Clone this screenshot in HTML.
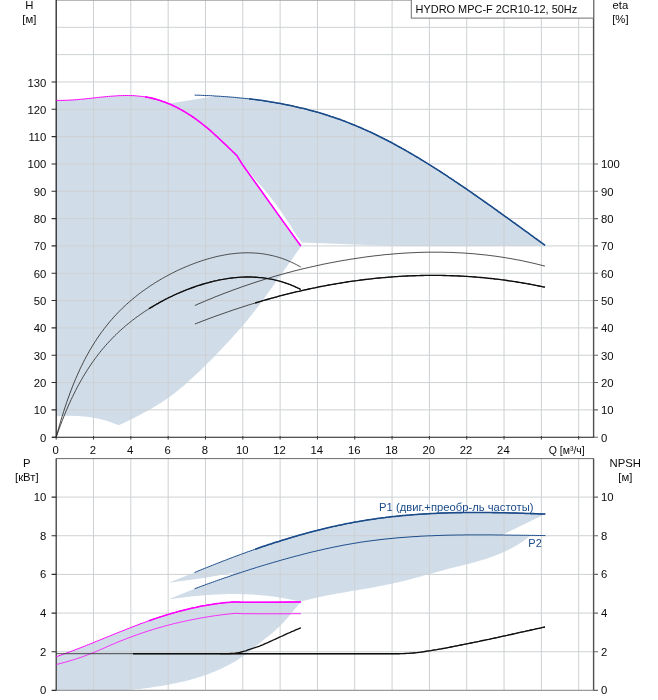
<!DOCTYPE html>
<html lang="ru"><head><meta charset="utf-8"><title>HYDRO MPC-F 2CR10-12, 50Hz</title>
<style>
html,body{margin:0;padding:0;background:#fff;}
body{width:658px;height:700px;overflow:hidden;}
svg{display:block;font-family:"Liberation Sans",Arial,sans-serif;}
</style></head><body>
<svg width="658" height="700" viewBox="0 0 658 700">
<rect width="658" height="700" fill="#fff"/>
<defs><filter id="soft" x="0" y="0" width="658" height="700" filterUnits="userSpaceOnUse"><feGaussianBlur stdDeviation="0.32"/></filter></defs>
<g filter="url(#soft)">
<path d="M56.2,100.3 L58.2,100.4 L60.2,100.4 L62.2,100.4 L64.2,100.3 L66.2,100.3 L68.3,100.2 L70.3,100.1 L72.3,100.0 L74.3,99.8 L76.3,99.7 L78.3,99.5 L80.3,99.3 L82.3,99.2 L84.3,99.0 L86.3,98.7 L88.4,98.5 L90.4,98.3 L92.4,98.1 L94.4,97.9 L96.4,97.6 L98.4,97.4 L100.4,97.2 L102.4,97.0 L104.4,96.8 L106.4,96.6 L108.5,96.4 L110.5,96.3 L112.5,96.1 L114.5,96.0 L116.5,95.8 L118.5,95.7 L120.5,95.6 L122.5,95.6 L124.5,95.5 L126.5,95.5 L128.6,95.5 L130.6,95.6 L132.6,95.6 L134.6,95.7 L136.6,95.9 L138.6,96.1 L140.6,96.3 L142.6,96.5 L144.6,96.8 L146.6,97.1 L148.7,97.5 L150.7,97.9 L152.7,98.4 L154.7,98.9 L156.7,99.4 L158.7,100.0 L160.7,100.7 L162.7,101.4 L164.7,102.1 L166.8,102.9 L168.8,103.7 L170.8,104.6 L172.8,105.5 L174.8,106.4 L176.8,107.4 L178.8,108.5 L180.8,109.6 L182.8,110.7 L184.8,111.9 L186.8,113.1 L188.9,114.4 L190.9,115.7 L192.9,117.0 L194.9,118.4 L196.9,119.9 L198.9,121.4 L200.9,122.9 L202.9,124.5 L204.9,126.1 L206.9,127.7 L209.0,129.4 L211.0,131.2 L213.0,133.0 L215.0,134.8 L217.0,136.6 L219.0,138.5 L221.0,140.4 L223.0,142.3 L225.0,144.2 L227.1,146.1 L229.1,148.1 L231.1,150.0 L233.1,152.0 L235.1,153.9 L237.1,155.9 L242.6,164.8 L261.4,191.0 L280.2,217.4 L300.8,246.0 L300.9,246.8 L298.9,249.6 L296.9,252.3 L294.9,255.1 L292.9,257.9 L290.9,260.7 L288.9,263.6 L286.9,266.4 L284.9,269.2 L282.9,272.1 L280.9,274.9 L278.9,277.8 L276.9,280.6 L274.9,283.4 L272.9,286.2 L270.9,289.0 L268.9,291.8 L266.9,294.6 L264.9,297.3 L262.9,300.0 L260.9,302.7 L258.9,305.4 L256.9,308.0 L254.9,310.6 L252.9,313.2 L250.9,315.7 L248.9,318.2 L246.9,320.7 L244.9,323.1 L242.9,325.5 L240.9,327.8 L238.9,330.1 L236.9,332.4 L234.9,334.6 L232.9,336.8 L230.9,339.0 L228.9,341.2 L226.9,343.3 L224.9,345.5 L222.9,347.6 L220.9,349.7 L218.9,351.8 L216.9,353.8 L214.9,355.9 L212.9,358.0 L210.9,360.0 L208.8,362.0 L206.8,364.0 L204.8,366.0 L202.8,368.0 L200.8,369.9 L198.8,371.9 L196.8,373.8 L194.8,375.6 L192.8,377.5 L190.8,379.3 L188.8,381.1 L186.8,382.9 L184.8,384.7 L182.8,386.4 L180.8,388.1 L178.8,389.7 L176.8,391.3 L174.8,392.9 L172.8,394.4 L170.8,395.9 L168.8,397.4 L166.8,398.8 L164.8,400.2 L162.8,401.6 L160.8,402.9 L158.8,404.1 L156.8,405.4 L154.8,406.6 L152.8,407.8 L150.8,408.9 L148.8,410.1 L146.8,411.2 L144.8,412.3 L142.8,413.3 L140.8,414.4 L138.8,415.4 L136.8,416.4 L134.8,417.5 L132.8,418.5 L130.8,419.4 L128.8,420.4 L126.8,421.4 L124.8,422.4 L122.8,423.4 L120.8,424.3 L118.8,425.3 L116.8,424.5 L114.8,423.7 L112.7,422.9 L110.7,422.2 L108.7,421.5 L106.7,420.8 L104.7,420.3 L102.6,419.7 L100.6,419.2 L98.6,418.7 L96.6,418.3 L94.6,417.9 L92.5,417.6 L90.5,417.2 L88.5,417.0 L86.5,416.7 L84.5,416.5 L82.5,416.3 L80.4,416.2 L78.4,416.0 L76.4,415.9 L74.4,415.9 L72.4,415.8 L70.3,415.8 L68.3,415.8 L66.3,415.8 L64.3,415.9 L62.3,416.0 L60.2,416.1 L58.2,416.2 L56.2,416.3 Z" fill="#d0dce8"/>
<path d="M169.5,103.6 L216.6,96.1 L218.6,96.2 L220.6,96.3 L222.6,96.5 L224.6,96.6 L226.6,96.7 L228.6,96.9 L230.7,97.1 L232.7,97.2 L234.7,97.4 L236.7,97.6 L238.7,97.8 L240.7,98.0 L242.7,98.2 L244.7,98.4 L246.7,98.6 L248.7,98.8 L250.7,99.0 L252.7,99.3 L254.7,99.5 L256.7,99.8 L258.7,100.1 L260.7,100.3 L262.7,100.6 L264.7,100.9 L266.7,101.2 L268.7,101.5 L270.7,101.9 L272.7,102.2 L274.7,102.5 L276.7,102.9 L278.7,103.2 L280.7,103.6 L282.7,104.0 L284.7,104.4 L286.7,104.8 L288.7,105.2 L290.7,105.6 L292.7,106.0 L294.7,106.5 L296.7,106.9 L298.7,107.4 L300.8,107.9 L302.8,108.3 L304.8,108.8 L306.8,109.3 L308.8,109.9 L310.8,110.4 L312.8,110.9 L314.8,111.5 L316.8,112.1 L318.8,112.6 L320.8,113.2 L322.8,113.8 L324.8,114.4 L326.8,115.1 L328.8,115.7 L330.8,116.4 L332.8,117.0 L334.8,117.7 L336.8,118.4 L338.8,119.1 L340.8,119.8 L342.8,120.6 L344.8,121.3 L346.8,122.1 L348.8,122.9 L350.8,123.7 L352.8,124.5 L354.8,125.3 L356.8,126.1 L358.8,127.0 L360.8,127.8 L362.8,128.7 L364.8,129.6 L366.8,130.5 L368.8,131.4 L370.9,132.3 L372.9,133.3 L374.9,134.2 L376.9,135.2 L378.9,136.2 L380.9,137.2 L382.9,138.2 L384.9,139.2 L386.9,140.2 L388.9,141.3 L390.9,142.3 L392.9,143.4 L394.9,144.5 L396.9,145.6 L398.9,146.7 L400.9,147.8 L402.9,148.9 L404.9,150.0 L406.9,151.2 L408.9,152.3 L410.9,153.5 L412.9,154.7 L414.9,155.9 L416.9,157.0 L418.9,158.2 L420.9,159.5 L422.9,160.7 L424.9,161.9 L426.9,163.1 L428.9,164.4 L430.9,165.6 L432.9,166.9 L434.9,168.2 L436.9,169.4 L438.9,170.7 L441.0,172.0 L443.0,173.3 L445.0,174.6 L447.0,175.9 L449.0,177.3 L451.0,178.6 L453.0,179.9 L455.0,181.3 L457.0,182.6 L459.0,184.0 L461.0,185.3 L463.0,186.7 L465.0,188.0 L467.0,189.4 L469.0,190.8 L471.0,192.2 L473.0,193.6 L475.0,195.0 L477.0,196.4 L479.0,197.8 L481.0,199.2 L483.0,200.6 L485.0,202.0 L487.0,203.4 L489.0,204.8 L491.0,206.2 L493.0,207.7 L495.0,209.1 L497.0,210.5 L499.0,212.0 L501.0,213.4 L503.0,214.9 L505.0,216.3 L507.0,217.7 L509.0,219.2 L511.1,220.6 L513.1,222.1 L515.1,223.5 L517.1,225.0 L519.1,226.4 L521.1,227.9 L523.1,229.3 L525.1,230.8 L527.1,232.2 L529.1,233.7 L531.1,235.2 L533.1,236.6 L535.1,238.1 L537.1,239.5 L539.1,241.0 L541.1,242.4 L543.1,243.9 L545.1,245.3 L545.1,246.0 L395,246.0 L302,242.5 L301.8,242.6 L247.5,169.5 L236.0,159.0 L169.5,103.6 Z" fill="#d0dce8"/>
<path d="M56.2,656.7 L58.2,656.0 L60.2,655.3 L62.3,654.6 L64.3,653.8 L66.3,653.1 L68.3,652.4 L70.3,651.6 L72.4,650.9 L74.4,650.1 L76.4,649.3 L78.4,648.6 L80.4,647.8 L82.5,647.0 L84.5,646.2 L86.5,645.4 L88.5,644.6 L90.5,643.8 L92.6,643.0 L94.6,642.1 L96.6,641.3 L98.6,640.5 L100.6,639.7 L102.7,638.9 L104.7,638.0 L106.7,637.2 L108.7,636.4 L110.7,635.6 L112.8,634.7 L114.8,633.9 L116.8,633.1 L118.8,632.3 L120.8,631.5 L122.9,630.7 L124.9,629.9 L126.9,629.1 L128.9,628.3 L130.9,627.5 L133.0,626.7 L135.0,625.9 L137.0,625.2 L139.0,624.4 L141.0,623.6 L143.1,622.9 L145.1,622.2 L147.1,621.4 L149.1,620.7 L151.2,620.0 L153.2,619.3 L155.2,618.6 L157.2,617.9 L159.2,617.3 L161.3,616.6 L163.3,616.0 L165.3,615.3 L167.3,614.7 L169.3,614.1 L171.4,613.5 L173.4,612.9 L175.4,612.4 L177.4,611.8 L179.4,611.2 L181.5,610.7 L183.5,610.2 L185.5,609.7 L187.5,609.2 L189.5,608.7 L191.6,608.2 L193.6,607.8 L195.6,607.4 L197.6,606.9 L199.6,606.5 L201.7,606.1 L203.7,605.7 L205.7,605.4 L207.7,605.0 L209.7,604.7 L211.8,604.4 L213.8,604.1 L215.8,603.8 L217.8,603.5 L219.8,603.3 L221.9,603.0 L223.9,602.8 L225.9,602.6 L227.9,602.4 L229.9,602.3 L232.0,602.1 L234.0,602.0 L236.0,601.9 L242.8,602.3 L270.0,602.2 L300.9,601.9 L298.9,604.2 L296.9,606.7 L294.8,609.1 L292.8,611.6 L290.8,614.0 L288.8,616.4 L286.8,618.7 L284.7,621.0 L282.7,623.2 L280.7,625.3 L278.7,627.2 L276.6,629.1 L274.6,631.0 L272.6,632.7 L270.6,634.4 L268.6,636.0 L266.5,637.6 L264.5,639.2 L262.5,640.8 L260.5,642.4 L258.5,644.0 L256.4,645.6 L254.4,647.3 L252.4,648.9 L250.4,650.5 L248.4,652.2 L246.3,653.7 L244.3,655.3 L242.3,656.7 L240.3,658.1 L238.3,659.5 L236.2,660.7 L234.2,661.9 L232.2,663.1 L230.2,664.2 L228.1,665.3 L226.1,666.3 L224.1,667.3 L222.1,668.3 L220.1,669.2 L218.0,670.1 L216.0,671.0 L214.0,671.8 L212.0,672.6 L210.0,673.4 L207.9,674.2 L205.9,674.9 L203.9,675.6 L201.9,676.3 L199.9,676.9 L197.8,677.5 L195.8,678.2 L193.8,678.7 L191.8,679.3 L189.8,679.9 L187.7,680.4 L185.7,680.9 L183.7,681.4 L181.7,681.9 L179.6,682.3 L177.6,682.8 L175.6,683.2 L173.6,683.6 L171.6,684.0 L169.5,684.4 L167.5,684.8 L165.5,685.2 L163.5,685.5 L161.5,685.9 L159.4,686.2 L157.4,686.5 L155.4,686.8 L153.4,687.1 L151.4,687.4 L149.3,687.7 L147.3,688.0 L145.3,688.2 L143.3,688.5 L141.3,688.7 L139.2,688.9 L137.2,689.1 L135.2,689.3 L133.2,689.5 L131.1,689.6 L129.1,689.8 L127.1,689.9 L125.1,690.0 L123.1,690.1 L121.0,690.2 L119.0,690.3 L117.0,690.4 L56.2,690.4 Z" fill="#d0dce8"/>
<path d="M168.6,582.7 L194.6,572.5 L196.6,571.7 L198.6,570.8 L200.6,570.0 L202.6,569.2 L204.6,568.4 L206.6,567.6 L208.6,566.8 L210.6,566.0 L212.6,565.2 L214.6,564.4 L216.6,563.6 L218.6,562.8 L220.7,562.0 L222.7,561.2 L224.7,560.5 L226.7,559.7 L228.7,558.9 L230.7,558.2 L232.7,557.4 L234.7,556.6 L236.7,555.9 L238.7,555.2 L240.7,554.4 L242.7,553.7 L244.7,553.0 L246.7,552.2 L248.7,551.5 L250.7,550.8 L252.7,550.1 L254.7,549.4 L256.7,548.7 L258.7,548.0 L260.7,547.3 L262.7,546.6 L264.7,545.9 L266.7,545.3 L268.7,544.6 L270.8,544.0 L272.8,543.3 L274.8,542.6 L276.8,542.0 L278.8,541.4 L280.8,540.7 L282.8,540.1 L284.8,539.5 L286.8,538.9 L288.8,538.3 L290.8,537.7 L292.8,537.1 L294.8,536.5 L296.8,535.9 L298.8,535.3 L300.8,534.8 L302.8,534.2 L304.8,533.7 L306.8,533.1 L308.8,532.6 L310.8,532.0 L312.8,531.5 L314.8,531.0 L316.8,530.5 L318.8,530.0 L320.9,529.5 L322.9,529.0 L324.9,528.5 L326.9,528.0 L328.9,527.5 L330.9,527.1 L332.9,526.6 L334.9,526.2 L336.9,525.7 L338.9,525.3 L340.9,524.9 L342.9,524.5 L344.9,524.0 L346.9,523.6 L348.9,523.3 L350.9,522.9 L352.9,522.5 L354.9,522.1 L356.9,521.8 L358.9,521.4 L360.9,521.1 L362.9,520.7 L364.9,520.4 L366.9,520.1 L368.9,519.8 L371.0,519.5 L373.0,519.2 L375.0,518.9 L377.0,518.6 L379.0,518.3 L381.0,518.1 L383.0,517.8 L385.0,517.6 L387.0,517.3 L389.0,517.1 L391.0,516.8 L393.0,516.6 L395.0,516.4 L397.0,516.2 L399.0,516.0 L401.0,515.8 L403.0,515.6 L405.0,515.4 L407.0,515.2 L409.0,515.1 L411.0,514.9 L413.0,514.7 L415.0,514.6 L417.0,514.4 L419.0,514.3 L421.1,514.2 L423.1,514.0 L425.1,513.9 L427.1,513.8 L429.1,513.7 L431.1,513.6 L433.1,513.5 L435.1,513.4 L437.1,513.3 L439.1,513.2 L441.1,513.1 L443.1,513.0 L445.1,513.0 L447.1,512.9 L449.1,512.8 L451.1,512.8 L453.1,512.7 L455.1,512.7 L457.1,512.6 L459.1,512.6 L461.1,512.6 L463.1,512.5 L465.1,512.5 L467.1,512.5 L469.1,512.5 L471.2,512.5 L473.2,512.5 L475.2,512.5 L477.2,512.5 L479.2,512.5 L481.2,512.5 L483.2,512.5 L485.2,512.5 L487.2,512.5 L489.2,512.5 L491.2,512.5 L493.2,512.6 L495.2,512.6 L497.2,512.6 L499.2,512.7 L501.2,512.7 L503.2,512.7 L505.2,512.8 L507.2,512.8 L509.2,512.9 L511.2,512.9 L513.2,513.0 L515.2,513.0 L517.2,513.1 L519.2,513.2 L521.3,513.2 L523.3,513.3 L525.3,513.4 L527.3,513.4 L529.3,513.5 L531.3,513.6 L533.3,513.6 L535.3,513.7 L537.3,513.8 L539.3,513.9 L541.3,513.9 L543.3,514.0 L545.3,514.1 L501,535.4 L530.1,535.8 L528.1,537.4 L526.1,539.0 L524.1,540.5 L522.1,541.9 L520.1,543.2 L518.0,544.5 L516.0,545.7 L514.0,546.8 L512.0,547.9 L510.0,549.0 L508.0,550.0 L506.0,551.0 L504.0,551.9 L502.0,552.8 L500.0,553.7 L497.9,554.5 L495.9,555.3 L493.9,556.1 L491.9,556.8 L489.9,557.5 L487.9,558.2 L485.9,558.9 L483.9,559.5 L481.9,560.1 L479.9,560.7 L477.8,561.3 L475.8,561.9 L473.8,562.4 L471.8,563.0 L469.8,563.5 L467.8,564.0 L465.8,564.6 L463.8,565.1 L461.8,565.6 L459.8,566.1 L457.8,566.6 L455.7,567.1 L453.7,567.6 L451.7,568.1 L449.7,568.6 L447.7,569.1 L445.7,569.6 L443.7,570.2 L441.7,570.7 L439.7,571.2 L437.7,571.8 L435.6,572.3 L433.6,572.9 L431.6,573.4 L429.6,574.0 L427.6,574.5 L425.6,575.1 L423.6,575.6 L421.6,576.2 L419.6,576.7 L417.6,577.3 L415.6,577.8 L413.5,578.3 L411.5,578.9 L409.5,579.4 L407.5,579.9 L405.5,580.4 L403.5,580.9 L401.5,581.4 L399.5,581.9 L397.5,582.4 L395.5,582.8 L393.4,583.3 L391.4,583.7 L389.4,584.2 L387.4,584.6 L385.4,585.0 L383.4,585.4 L381.4,585.8 L379.4,586.2 L377.4,586.6 L375.4,587.0 L373.3,587.3 L371.3,587.7 L369.3,588.1 L367.3,588.4 L365.3,588.8 L363.3,589.1 L361.3,589.4 L359.3,589.8 L357.3,590.1 L355.3,590.5 L353.3,590.8 L351.2,591.1 L349.2,591.5 L347.2,591.8 L345.2,592.2 L343.2,592.5 L341.2,592.9 L339.2,593.2 L337.2,593.6 L335.2,593.9 L333.2,594.3 L331.1,594.7 L329.1,595.1 L327.1,595.4 L325.1,595.8 L323.1,596.2 L321.1,596.7 L319.1,597.1 L317.1,597.5 L315.1,598.0 L313.1,598.4 L311.0,598.9 L309.0,599.4 L307.0,599.9 L305.0,600.4 L303.0,600.9 L301.0,601.4 L299.0,601.4 L297.0,600.9 L295.0,600.4 L293.0,600.0 L291.0,599.6 L289.0,599.2 L287.0,598.8 L285.0,598.4 L282.9,598.1 L280.9,597.7 L278.9,597.4 L276.9,597.1 L274.9,596.8 L272.9,596.5 L270.9,596.3 L268.9,596.0 L266.9,595.8 L264.9,595.6 L262.9,595.4 L260.9,595.2 L258.9,595.0 L256.9,594.9 L254.9,594.7 L252.9,594.6 L250.8,594.5 L248.8,594.4 L246.8,594.3 L244.8,594.2 L242.8,594.2 L240.8,594.1 L238.8,594.1 L236.8,594.1 L234.8,594.1 L232.8,594.1 L230.8,594.1 L228.8,594.1 L226.8,594.1 L224.8,594.2 L222.8,594.2 L220.8,594.3 L218.8,594.4 L216.7,594.5 L214.7,594.6 L212.7,594.7 L210.7,594.8 L208.7,595.0 L206.7,595.1 L204.7,595.2 L202.7,595.4 L200.7,595.6 L198.7,595.8 L196.7,595.9 L194.7,596.1 L192.7,596.3 L190.7,596.5 L188.7,596.8 L186.7,597.0 L184.6,597.2 L182.6,597.5 L180.6,597.7 L178.6,598.0 L176.6,598.2 L174.6,598.5 L172.6,598.8 L170.6,599.0 L168.6,599.3 L194.6,588.8 L196.6,588.0 L198.6,587.3 L200.6,586.5 L202.6,585.8 L204.6,585.1 L206.6,584.3 L208.6,583.6 L210.6,582.9 L212.6,582.2 L214.6,581.5 L216.6,580.7 L218.6,580.0 L220.7,579.3 L222.7,578.6 L224.7,577.9 L226.7,577.3 L228.7,576.6 L230.7,575.9 L232.7,575.2 L233,572.8 L205.5,577.7 Z" fill="#d0dce8"/>
<path d="M93.52,0 V437.2 M93.52,458.6 V690.4 M130.84,0 V437.2 M130.84,458.6 V690.4 M168.16,0 V437.2 M168.16,458.6 V690.4 M205.48,0 V437.2 M205.48,458.6 V690.4 M242.80,0 V437.2 M242.80,458.6 V690.4 M280.12,0 V437.2 M280.12,458.6 V690.4 M317.44,0 V437.2 M317.44,458.6 V690.4 M354.76,0 V437.2 M354.76,458.6 V690.4 M392.08,0 V437.2 M392.08,458.6 V690.4 M429.40,0 V437.2 M429.40,458.6 V690.4 M466.72,0 V437.2 M466.72,458.6 V690.4 M504.04,0 V437.2 M504.04,458.6 V690.4 M541.36,0 V437.2 M541.36,458.6 V690.4 M578.68,0 V437.2 M578.68,458.6 V690.4 M56.2,409.88 H593.6 M56.2,382.55 H593.6 M56.2,355.23 H593.6 M56.2,327.90 H593.6 M56.2,300.57 H593.6 M56.2,273.25 H593.6 M56.2,245.92 H593.6 M56.2,218.60 H593.6 M56.2,191.28 H593.6 M56.2,163.95 H593.6 M56.2,136.62 H593.6 M56.2,109.30 H593.6 M56.2,81.98 H593.6 M56.2,54.65 H593.6 M56.2,27.32 H593.6 M56.2,651.74 H593.6 M56.2,613.08 H593.6 M56.2,574.42 H593.6 M56.2,535.76 H593.6 M56.2,497.10 H593.6" stroke="#cdd1d3" stroke-width="1" fill="none"/>
<path d="M56.2,0.2 H593.6" stroke="#999" stroke-width="1" fill="none"/>
<path d="M56.2,690.4 H593.6" stroke="#9a9a9a" stroke-width="1.2" fill="none"/>
<path d="M56.2,458.6 H593.6" stroke="#6a6a6a" stroke-width="1" fill="none"/>
<path d="M593.6,0 V437.2 M593.6,458.6 V690.4" stroke="#505050" stroke-width="1.4" fill="none"/>
<path d="M56.2,0 V437.2" stroke="#262626" stroke-width="1.3" fill="none"/>
<path d="M56.2,458.6 V690.4" stroke="#3c3c3c" stroke-width="1.3" fill="none"/>
<path d="M52,437.3 H594.3" stroke="#1a1a1a" stroke-width="1.1" fill="none"/>
<path d="M51.6,437.20 H56.2 M51.6,409.88 H56.2 M51.6,382.55 H56.2 M51.6,355.23 H56.2 M51.6,327.90 H56.2 M51.6,300.57 H56.2 M51.6,273.25 H56.2 M51.6,245.92 H56.2 M51.6,218.60 H56.2 M51.6,191.28 H56.2 M51.6,163.95 H56.2 M51.6,136.62 H56.2 M51.6,109.30 H56.2 M51.6,81.98 H56.2 M51.6,690.40 H56.2 M51.6,651.74 H56.2 M51.6,613.08 H56.2 M51.6,574.42 H56.2 M51.6,535.76 H56.2 M51.6,497.10 H56.2" stroke="#2e2e2e" stroke-width="1.1" fill="none"/>
<path d="M593.6,437.20 H598 M593.6,409.88 H598 M593.6,382.55 H598 M593.6,355.23 H598 M593.6,327.90 H598 M593.6,300.57 H598 M593.6,273.25 H598 M593.6,245.92 H598 M593.6,218.60 H598 M593.6,191.28 H598 M593.6,163.95 H598 M593.6,690.40 H598 M593.6,651.74 H598 M593.6,613.08 H598 M593.6,574.42 H598 M593.6,535.76 H598 M593.6,497.10 H598" stroke="#6a6a6a" stroke-width="1.1" fill="none"/>
<path d="M56.20,436 V439.6 M93.52,436 V439.6 M130.84,436 V439.6 M168.16,436 V439.6 M205.48,436 V439.6 M242.80,436 V439.6 M280.12,436 V439.6 M317.44,436 V439.6 M354.76,436 V439.6 M392.08,436 V439.6 M429.40,436 V439.6 M466.72,436 V439.6 M504.04,436 V439.6 M541.36,436 V439.6 M578.68,436 V439.6" stroke="#3a3a3a" stroke-width="1" fill="none"/>
<path d="M56.2,437.2 L57.7,431.6 L59.2,426.3 L60.7,421.1 L62.2,416.2 L63.7,411.4 L65.2,406.8 L66.7,402.3 L68.2,398.1 L69.7,393.9 L71.2,389.9 L72.7,386.1 L74.2,382.4 L75.7,378.8 L77.2,375.3 L78.7,372.0 L80.2,368.7 L81.7,365.6 L83.2,362.6 L84.7,359.6 L86.2,356.8 L87.7,354.1 L89.2,351.4 L90.7,348.8 L92.2,346.3 L93.7,343.9 L95.2,341.5 L96.7,339.2 L98.2,337.0 L99.7,334.8 L101.2,332.7 L102.7,330.7 L104.2,328.7 L105.7,326.8 L107.2,324.9 L108.7,323.0 L110.2,321.2 L111.7,319.5 L113.2,317.8 L114.7,316.1 L116.2,314.5 L117.7,312.9 L119.2,311.4 L120.7,309.9 L122.2,308.4 L123.7,307.0 L125.2,305.6 L126.7,304.2 L128.2,302.9 L129.7,301.5 L131.2,300.3 L132.7,299.0 L134.2,297.8 L135.7,296.5 L137.2,295.4 L138.7,294.2 L140.2,293.0 L141.7,291.9 L143.2,290.8 L144.7,289.8 L146.2,288.7 L147.7,287.7 L149.2,286.6 L150.7,285.6 L152.2,284.7 L153.7,283.7 L155.2,282.7 L156.7,281.8 L158.2,280.9 L159.7,280.0 L161.2,279.1 L162.7,278.3 L164.2,277.4 L165.7,276.6 L167.2,275.8 L168.7,275.0 L170.2,274.2 L171.7,273.4 L173.2,272.6 L174.7,271.9 L176.2,271.1 L177.7,270.4 L179.3,269.7 L180.8,269.0 L182.3,268.3 L183.8,267.7 L185.3,267.0 L186.8,266.4 L188.3,265.8 L189.8,265.2 L191.3,264.6 L192.8,264.0 L194.3,263.4 L195.8,262.9 L197.3,262.3 L198.8,261.8 L200.3,261.3 L201.8,260.8 L203.3,260.3 L204.8,259.8 L206.3,259.4 L207.8,258.9 L209.3,258.5 L210.8,258.1 L212.3,257.7 L213.8,257.3 L215.3,256.9 L216.8,256.5 L218.3,256.2 L219.8,255.9 L221.3,255.6 L222.8,255.3 L224.3,255.0 L225.8,254.7 L227.3,254.5 L228.8,254.2 L230.3,254.0 L231.8,253.8 L233.3,253.7 L234.8,253.5 L236.3,253.3 L237.8,253.2 L239.3,253.1 L240.8,253.0 L242.3,252.9 L243.8,252.9 L245.3,252.8 L246.8,252.8 L248.3,252.8 L249.8,252.8 L251.3,252.9 L252.8,252.9 L254.3,253.0 L255.8,253.1 L257.3,253.2 L258.8,253.4 L260.3,253.5 L261.8,253.7 L263.3,253.9 L264.8,254.2 L266.3,254.4 L267.8,254.7 L269.3,255.0 L270.8,255.3 L272.3,255.6 L273.8,256.0 L275.3,256.4 L276.8,256.8 L278.3,257.2 L279.8,257.7 L281.3,258.2 L282.8,258.7 L284.3,259.3 L285.8,259.8 L287.3,260.4 L288.8,261.1 L290.3,261.7 L291.8,262.4 L293.3,263.1 L294.8,263.8 L296.3,264.6 L297.8,265.4 L299.3,266.2 L300.8,267.1" stroke="#2c2c2c" stroke-width="0.85" fill="none"/>
<path d="M56.2,437.2 L57.7,432.9 L59.2,428.7 L60.7,424.6 L62.2,420.7 L63.7,416.9 L65.2,413.2 L66.7,409.6 L68.2,406.1 L69.7,402.8 L71.2,399.5 L72.7,396.4 L74.2,393.3 L75.7,390.3 L77.2,387.4 L78.7,384.6 L80.2,381.9 L81.7,379.3 L83.2,376.7 L84.7,374.2 L86.2,371.8 L87.7,369.4 L89.2,367.1 L90.7,364.9 L92.2,362.7 L93.7,360.6 L95.2,358.5 L96.7,356.5 L98.2,354.5 L99.7,352.6 L101.2,350.7 L102.7,348.9 L104.2,347.2 L105.7,345.4 L107.2,343.7 L108.7,342.1 L110.2,340.5 L111.7,338.9 L113.2,337.4 L114.7,335.8 L116.2,334.4 L117.7,332.9 L119.2,331.5 L120.7,330.2 L122.2,328.8 L123.7,327.5 L125.2,326.2 L126.7,324.9 L128.2,323.7 L129.7,322.5 L131.2,321.3 L132.7,320.1 L134.2,319.0 L135.7,317.8 L137.2,316.7 L138.7,315.7 L140.2,314.6 L141.7,313.6 L143.2,312.5 L144.7,311.5 L146.2,310.5 L147.7,309.6 L149.2,308.6 L150.7,307.7 L152.2,306.8 L153.7,305.9 L155.2,305.0 L156.7,304.1 L158.2,303.3 L159.7,302.4 L161.2,301.6 L162.7,300.8 L164.2,300.0 L165.7,299.2 L167.2,298.5 L168.7,297.7 L170.2,297.0 L171.7,296.3 L173.2,295.5 L174.7,294.8 L176.2,294.2 L177.7,293.5 L179.3,292.8 L180.8,292.2 L182.3,291.6 L183.8,290.9 L185.3,290.3 L186.8,289.7 L188.3,289.2 L189.8,288.6 L191.3,288.0 L192.8,287.5 L194.3,287.0 L195.8,286.4 L197.3,285.9 L198.8,285.4 L200.3,285.0 L201.8,284.5 L203.3,284.0 L204.8,283.6 L206.3,283.2 L207.8,282.8 L209.3,282.4 L210.8,282.0 L212.3,281.6 L213.8,281.2 L215.3,280.9 L216.8,280.6 L218.3,280.2 L219.8,279.9 L221.3,279.6 L222.8,279.4 L224.3,279.1 L225.8,278.9 L227.3,278.6 L228.8,278.4 L230.3,278.2 L231.8,278.0 L233.3,277.8 L234.8,277.7 L236.3,277.6 L237.8,277.4 L239.3,277.3 L240.8,277.2 L242.3,277.1 L243.8,277.1 L245.3,277.0 L246.8,277.0 L248.3,277.0 L249.8,277.0 L251.3,277.0 L252.8,277.1 L254.3,277.2 L255.8,277.2 L257.3,277.3 L258.8,277.5 L260.3,277.6 L261.8,277.7 L263.3,277.9 L264.8,278.1 L266.3,278.3 L267.8,278.6 L269.3,278.8 L270.8,279.1 L272.3,279.4 L273.8,279.7 L275.3,280.1 L276.8,280.4 L278.3,280.8 L279.8,281.2 L281.3,281.7 L282.8,282.1 L284.3,282.6 L285.8,283.1 L287.3,283.6 L288.8,284.2 L290.3,284.7 L291.8,285.3 L293.3,286.0 L294.8,286.6 L296.3,287.3 L297.8,288.0 L299.3,288.7 L300.8,289.5" stroke="#2c2c2c" stroke-width="0.85" fill="none"/>
<path d="M194.9,305.5 L196.9,304.6 L198.9,303.7 L200.9,302.9 L202.9,302.0 L204.9,301.2 L206.9,300.3 L208.9,299.5 L210.9,298.7 L212.9,297.9 L214.9,297.0 L216.9,296.2 L218.9,295.5 L220.9,294.7 L222.9,293.9 L224.9,293.1 L226.9,292.4 L228.9,291.6 L230.9,290.9 L232.9,290.1 L234.9,289.4 L236.9,288.7 L238.9,288.0 L240.9,287.2 L242.9,286.5 L244.9,285.8 L246.9,285.2 L248.9,284.5 L250.9,283.8 L252.9,283.1 L254.9,282.5 L256.9,281.8 L258.9,281.2 L260.9,280.6 L262.9,279.9 L264.9,279.3 L266.9,278.7 L268.9,278.1 L270.9,277.5 L272.9,276.9 L274.9,276.3 L276.9,275.7 L278.9,275.1 L280.9,274.6 L282.9,274.0 L284.9,273.5 L286.9,272.9 L288.9,272.4 L290.9,271.9 L292.9,271.3 L294.9,270.8 L296.9,270.3 L298.9,269.8 L300.9,269.3 L302.9,268.8 L304.9,268.4 L306.9,267.9 L308.9,267.4 L310.9,267.0 L312.9,266.5 L314.9,266.1 L316.9,265.6 L318.9,265.2 L320.9,264.8 L322.9,264.3 L324.9,263.9 L326.9,263.5 L328.9,263.1 L330.9,262.7 L332.9,262.4 L334.9,262.0 L336.9,261.6 L338.9,261.2 L340.9,260.9 L342.9,260.5 L344.9,260.2 L346.9,259.9 L348.9,259.5 L350.9,259.2 L352.9,258.9 L354.9,258.6 L356.9,258.3 L358.9,258.0 L360.9,257.7 L362.9,257.4 L364.9,257.1 L366.9,256.8 L368.9,256.6 L370.9,256.3 L372.9,256.1 L374.9,255.8 L376.9,255.6 L378.9,255.4 L380.9,255.2 L382.9,254.9 L384.9,254.7 L386.9,254.5 L388.9,254.4 L390.9,254.2 L392.9,254.0 L394.9,253.8 L396.9,253.7 L398.9,253.5 L400.9,253.4 L402.9,253.2 L404.9,253.1 L406.9,253.0 L408.9,252.9 L410.9,252.8 L412.9,252.7 L414.9,252.6 L416.9,252.5 L418.9,252.4 L420.9,252.4 L422.9,252.3 L424.9,252.3 L426.9,252.2 L428.9,252.2 L430.9,252.2 L432.9,252.2 L434.9,252.2 L436.9,252.2 L438.9,252.2 L440.9,252.2 L442.9,252.2 L444.9,252.3 L446.9,252.3 L448.9,252.4 L450.9,252.4 L452.9,252.5 L454.9,252.6 L456.9,252.7 L458.9,252.8 L460.9,252.9 L462.9,253.0 L464.9,253.1 L466.9,253.3 L468.9,253.4 L470.9,253.6 L472.9,253.7 L474.9,253.9 L476.9,254.1 L478.9,254.3 L480.9,254.5 L482.9,254.7 L484.9,254.9 L486.9,255.1 L488.9,255.4 L490.9,255.6 L492.9,255.9 L494.9,256.1 L496.9,256.4 L498.9,256.7 L500.9,257.0 L502.9,257.3 L504.9,257.6 L506.9,258.0 L508.9,258.3 L510.9,258.6 L512.9,259.0 L514.9,259.4 L516.9,259.8 L518.9,260.1 L520.9,260.5 L522.9,260.9 L524.9,261.4 L526.9,261.8 L528.9,262.2 L530.9,262.7 L532.9,263.1 L534.9,263.6 L536.9,264.1 L538.9,264.6 L540.9,265.1 L542.9,265.6 L544.9,266.1" stroke="#2c2c2c" stroke-width="0.85" fill="none"/>
<path d="M194.9,324.0 L196.9,323.2 L198.9,322.5 L200.9,321.7 L202.9,320.9 L204.9,320.2 L206.9,319.4 L208.9,318.6 L210.9,317.9 L212.9,317.2 L214.9,316.4 L216.9,315.7 L218.9,315.0 L220.9,314.3 L222.9,313.6 L224.9,312.9 L226.9,312.2 L228.9,311.5 L230.9,310.8 L232.9,310.1 L234.9,309.4 L236.9,308.8 L238.9,308.1 L240.9,307.5 L242.9,306.8 L244.9,306.2 L246.9,305.5 L248.9,304.9 L250.9,304.3 L252.9,303.7 L254.9,303.1 L256.9,302.5 L258.9,301.9 L260.9,301.3 L262.9,300.7 L264.9,300.1 L266.9,299.5 L268.9,299.0 L270.9,298.4 L272.9,297.9 L274.9,297.3 L276.9,296.8 L278.9,296.2 L280.9,295.7 L282.9,295.2 L284.9,294.7 L286.9,294.2 L288.9,293.7 L290.9,293.2 L292.9,292.7 L294.9,292.2 L296.9,291.7 L298.9,291.3 L300.9,290.8 L302.9,290.3 L304.9,289.9 L306.9,289.5 L308.9,289.0 L310.9,288.6 L312.9,288.2 L314.9,287.8 L316.9,287.3 L318.9,286.9 L320.9,286.5 L322.9,286.2 L324.9,285.8 L326.9,285.4 L328.9,285.0 L330.9,284.7 L332.9,284.3 L334.9,284.0 L336.9,283.6 L338.9,283.3 L340.9,283.0 L342.9,282.6 L344.9,282.3 L346.9,282.0 L348.9,281.7 L350.9,281.4 L352.9,281.1 L354.9,280.8 L356.9,280.6 L358.9,280.3 L360.9,280.0 L362.9,279.8 L364.9,279.5 L366.9,279.3 L368.9,279.1 L371.0,278.9 L373.0,278.6 L375.0,278.4 L377.0,278.2 L379.0,278.0 L381.0,277.8 L383.0,277.6 L385.0,277.5 L387.0,277.3 L389.0,277.1 L391.0,277.0 L393.0,276.8 L395.0,276.7 L397.0,276.6 L399.0,276.4 L401.0,276.3 L403.0,276.2 L405.0,276.1 L407.0,276.0 L409.0,275.9 L411.0,275.8 L413.0,275.7 L415.0,275.7 L417.0,275.6 L419.0,275.6 L421.0,275.5 L423.0,275.5 L425.0,275.4 L427.0,275.4 L429.0,275.4 L431.0,275.4 L433.0,275.4 L435.0,275.4 L437.0,275.4 L439.0,275.4 L441.0,275.4 L443.0,275.5 L445.0,275.5 L447.0,275.6 L449.0,275.6 L451.0,275.7 L453.0,275.7 L455.0,275.8 L457.0,275.9 L459.0,276.0 L461.0,276.1 L463.0,276.2 L465.0,276.3 L467.0,276.4 L469.0,276.6 L471.0,276.7 L473.0,276.9 L475.0,277.0 L477.0,277.2 L479.0,277.3 L481.0,277.5 L483.0,277.7 L485.0,277.9 L487.0,278.1 L489.0,278.3 L491.0,278.5 L493.0,278.7 L495.0,279.0 L497.0,279.2 L499.0,279.4 L501.0,279.7 L503.0,279.9 L505.0,280.2 L507.0,280.5 L509.0,280.8 L511.0,281.1 L513.0,281.4 L515.0,281.7 L517.0,282.0 L519.0,282.3 L521.0,282.6 L523.0,283.0 L525.0,283.3 L527.0,283.7 L529.0,284.0 L531.0,284.4 L533.0,284.8 L535.0,285.2 L537.0,285.6 L539.0,286.0 L541.0,286.4 L543.0,286.8 L545.0,287.2" stroke="#2c2c2c" stroke-width="0.85" fill="none"/>
<path d="M149.1,308.7 L149.2,308.6 L150.7,307.7 L152.2,306.8 L153.7,305.9 L155.2,305.0 L156.7,304.1 L158.2,303.3 L159.7,302.4 L161.2,301.6 L162.7,300.8 L164.2,300.0 L165.7,299.2 L167.2,298.5 L168.7,297.7 L170.2,297.0 L171.7,296.3 L173.2,295.5 L174.7,294.8 L176.2,294.2 L177.7,293.5 L179.3,292.8 L180.8,292.2 L182.3,291.6 L183.8,290.9 L185.3,290.3 L186.8,289.7 L188.3,289.2 L189.8,288.6 L191.3,288.0 L192.8,287.5 L194.3,287.0 L195.8,286.4 L197.3,285.9 L198.8,285.4 L200.3,285.0 L201.8,284.5 L203.3,284.0 L204.8,283.6 L206.3,283.2 L207.8,282.8 L209.3,282.4 L210.8,282.0 L212.3,281.6 L213.8,281.2 L215.3,280.9 L216.8,280.6 L218.3,280.2 L219.8,279.9 L221.3,279.6 L222.8,279.4 L224.3,279.1 L225.8,278.9 L227.3,278.6 L228.8,278.4 L230.3,278.2 L231.8,278.0 L233.3,277.8 L234.8,277.7 L236.3,277.6 L237.8,277.4 L239.3,277.3 L240.8,277.2 L242.3,277.1 L243.8,277.1 L245.3,277.0 L246.8,277.0 L248.3,277.0 L249.8,277.0 L251.3,277.0 L252.8,277.1 L254.3,277.2 L255.8,277.2 L257.3,277.3 L258.8,277.5 L260.3,277.6 L261.8,277.7 L263.3,277.9 L264.8,278.1 L266.3,278.3 L267.8,278.6 L269.3,278.8 L270.8,279.1 L272.3,279.4 L273.8,279.7 L275.3,280.1 L276.8,280.4 L278.3,280.8 L279.8,281.2 L281.3,281.7 L282.8,282.1 L284.3,282.6 L285.8,283.1 L287.3,283.6 L288.8,284.2 L290.3,284.7 L291.8,285.3 L293.3,286.0 L294.8,286.6 L296.3,287.3 L297.8,288.0 L299.3,288.7 L300.8,289.5" stroke="#111" stroke-width="1.35" fill="none"/>
<path d="M255.2,303.0 L256.9,302.5 L258.9,301.9 L260.9,301.3 L262.9,300.7 L264.9,300.1 L266.9,299.5 L268.9,299.0 L270.9,298.4 L272.9,297.9 L274.9,297.3 L276.9,296.8 L278.9,296.2 L280.9,295.7 L282.9,295.2 L284.9,294.7 L286.9,294.2 L288.9,293.7 L290.9,293.2 L292.9,292.7 L294.9,292.2 L296.9,291.7 L298.9,291.3 L300.9,290.8 L302.9,290.3 L304.9,289.9 L306.9,289.5 L308.9,289.0 L310.9,288.6 L312.9,288.2 L314.9,287.8 L316.9,287.3 L318.9,286.9 L320.9,286.5 L322.9,286.2 L324.9,285.8 L326.9,285.4 L328.9,285.0 L330.9,284.7 L332.9,284.3 L334.9,284.0 L336.9,283.6 L338.9,283.3 L340.9,283.0 L342.9,282.6 L344.9,282.3 L346.9,282.0 L348.9,281.7 L350.9,281.4 L352.9,281.1 L354.9,280.8 L356.9,280.6 L358.9,280.3 L360.9,280.0 L362.9,279.8 L364.9,279.5 L366.9,279.3 L368.9,279.1 L371.0,278.9 L373.0,278.6 L375.0,278.4 L377.0,278.2 L379.0,278.0 L381.0,277.8 L383.0,277.6 L385.0,277.5 L387.0,277.3 L389.0,277.1 L391.0,277.0 L393.0,276.8 L395.0,276.7 L397.0,276.6 L399.0,276.4 L401.0,276.3 L403.0,276.2 L405.0,276.1 L407.0,276.0 L409.0,275.9 L411.0,275.8 L413.0,275.7 L415.0,275.7 L417.0,275.6 L419.0,275.6 L421.0,275.5 L423.0,275.5 L425.0,275.4 L427.0,275.4 L429.0,275.4 L431.0,275.4 L433.0,275.4 L435.0,275.4 L437.0,275.4 L439.0,275.4 L441.0,275.4 L443.0,275.5 L445.0,275.5 L447.0,275.6 L449.0,275.6 L451.0,275.7 L453.0,275.7 L455.0,275.8 L457.0,275.9 L459.0,276.0 L461.0,276.1 L463.0,276.2 L465.0,276.3 L467.0,276.4 L469.0,276.6 L471.0,276.7 L473.0,276.9 L475.0,277.0 L477.0,277.2 L479.0,277.3 L481.0,277.5 L483.0,277.7 L485.0,277.9 L487.0,278.1 L489.0,278.3 L491.0,278.5 L493.0,278.7 L495.0,279.0 L497.0,279.2 L499.0,279.4 L501.0,279.7 L503.0,279.9 L505.0,280.2 L507.0,280.5 L509.0,280.8 L511.0,281.1 L513.0,281.4 L515.0,281.7 L517.0,282.0 L519.0,282.3 L521.0,282.6 L523.0,283.0 L525.0,283.3 L527.0,283.7 L529.0,284.0 L531.0,284.4 L533.0,284.8 L535.0,285.2 L537.0,285.6 L539.0,286.0 L541.0,286.4 L543.0,286.8 L545.0,287.2" stroke="#111" stroke-width="1.35" fill="none"/>
<path d="M245.5,169 L301.6,244.6 Q279.0,202.8 245.5,169 Z" fill="#fff"/>
<path d="M56.2,100.3 L58.2,100.4 L60.2,100.4 L62.2,100.4 L64.2,100.3 L66.2,100.3 L68.3,100.2 L70.3,100.1 L72.3,100.0 L74.3,99.8 L76.3,99.7 L78.3,99.5 L80.3,99.3 L82.3,99.2 L84.3,99.0 L86.3,98.7 L88.4,98.5 L90.4,98.3 L92.4,98.1 L94.4,97.9 L96.4,97.6 L98.4,97.4 L100.4,97.2 L102.4,97.0 L104.4,96.8 L106.4,96.6 L108.5,96.4 L110.5,96.3 L112.5,96.1 L114.5,96.0 L116.5,95.8 L118.5,95.7 L120.5,95.6 L122.5,95.6 L124.5,95.5 L126.5,95.5 L128.6,95.5 L130.6,95.6 L132.6,95.6 L134.6,95.7 L136.6,95.9 L138.6,96.1 L140.6,96.3 L142.6,96.5 L144.6,96.8 L146.6,97.1 L148.7,97.5 L150.7,97.9 L152.7,98.4 L154.7,98.9 L156.7,99.4 L158.7,100.0 L160.7,100.7 L162.7,101.4 L164.7,102.1 L166.8,102.9 L168.8,103.7 L170.8,104.6 L172.8,105.5 L174.8,106.4 L176.8,107.4 L178.8,108.5 L180.8,109.6 L182.8,110.7 L184.8,111.9 L186.8,113.1 L188.9,114.4 L190.9,115.7 L192.9,117.0 L194.9,118.4 L196.9,119.9 L198.9,121.4 L200.9,122.9 L202.9,124.5 L204.9,126.1 L206.9,127.7 L209.0,129.4 L211.0,131.2 L213.0,133.0 L215.0,134.8 L217.0,136.6 L219.0,138.5 L221.0,140.4 L223.0,142.3 L225.0,144.2 L227.1,146.1 L229.1,148.1 L231.1,150.0 L233.1,152.0 L235.1,153.9 L237.1,155.9 L242.6,164.8 L261.4,191.0 L280.2,217.4 L300.8,246.0" stroke="#ff00ff" stroke-width="1" fill="none"/>
<path d="M145.0,96.9 L146.6,97.1 L148.7,97.5 L150.7,97.9 L152.7,98.4 L154.7,98.9 L156.7,99.4 L158.7,100.0 L160.7,100.7 L162.7,101.4 L164.7,102.1 L166.8,102.9 L168.8,103.7 L170.8,104.6 L172.8,105.5 L174.8,106.4 L176.8,107.4 L178.8,108.5 L180.8,109.6 L182.8,110.7 L184.8,111.9 L186.8,113.1 L188.9,114.4 L190.9,115.7 L192.9,117.0 L194.9,118.4 L196.9,119.9 L198.9,121.4 L200.9,122.9 L202.9,124.5 L204.9,126.1 L206.9,127.7 L209.0,129.4 L211.0,131.2 L213.0,133.0 L215.0,134.8 L217.0,136.6 L219.0,138.5 L221.0,140.4 L223.0,142.3 L225.0,144.2 L227.1,146.1 L229.1,148.1 L231.1,150.0 L233.1,152.0 L235.1,153.9 L237.1,155.9 L242.6,164.8 L261.4,191.0 L280.2,217.4 L300.8,246.0" stroke="#ff00ff" stroke-width="1.6" fill="none"/>
<path d="M194.6,95.1 L196.6,95.2 L198.6,95.2 L200.6,95.3 L202.6,95.4 L204.6,95.5 L206.6,95.6 L208.6,95.6 L210.6,95.7 L212.6,95.8 L214.6,96.0 L216.6,96.1 L218.6,96.2 L220.6,96.3 L222.6,96.5 L224.6,96.6 L226.6,96.7 L228.6,96.9 L230.7,97.1 L232.7,97.2 L234.7,97.4 L236.7,97.6 L238.7,97.8 L240.7,98.0 L242.7,98.2 L244.7,98.4 L246.7,98.6 L248.7,98.8 L250.7,99.0 L252.7,99.3 L254.7,99.5 L256.7,99.8 L258.7,100.1 L260.7,100.3 L262.7,100.6 L264.7,100.9 L266.7,101.2 L268.7,101.5 L270.7,101.9 L272.7,102.2 L274.7,102.5 L276.7,102.9 L278.7,103.2 L280.7,103.6 L282.7,104.0 L284.7,104.4 L286.7,104.8 L288.7,105.2 L290.7,105.6 L292.7,106.0 L294.7,106.5 L296.7,106.9 L298.7,107.4 L300.8,107.9 L302.8,108.3 L304.8,108.8 L306.8,109.3 L308.8,109.9 L310.8,110.4 L312.8,110.9 L314.8,111.5 L316.8,112.1 L318.8,112.6 L320.8,113.2 L322.8,113.8 L324.8,114.4 L326.8,115.1 L328.8,115.7 L330.8,116.4 L332.8,117.0 L334.8,117.7 L336.8,118.4 L338.8,119.1 L340.8,119.8 L342.8,120.6 L344.8,121.3 L346.8,122.1 L348.8,122.9 L350.8,123.7 L352.8,124.5 L354.8,125.3 L356.8,126.1 L358.8,127.0 L360.8,127.8 L362.8,128.7 L364.8,129.6 L366.8,130.5 L368.8,131.4 L370.9,132.3 L372.9,133.3 L374.9,134.2 L376.9,135.2 L378.9,136.2 L380.9,137.2 L382.9,138.2 L384.9,139.2 L386.9,140.2 L388.9,141.3 L390.9,142.3 L392.9,143.4 L394.9,144.5 L396.9,145.6 L398.9,146.7 L400.9,147.8 L402.9,148.9 L404.9,150.0 L406.9,151.2 L408.9,152.3 L410.9,153.5 L412.9,154.7 L414.9,155.9 L416.9,157.0 L418.9,158.2 L420.9,159.5 L422.9,160.7 L424.9,161.9 L426.9,163.1 L428.9,164.4 L430.9,165.6 L432.9,166.9 L434.9,168.2 L436.9,169.4 L438.9,170.7 L441.0,172.0 L443.0,173.3 L445.0,174.6 L447.0,175.9 L449.0,177.3 L451.0,178.6 L453.0,179.9 L455.0,181.3 L457.0,182.6 L459.0,184.0 L461.0,185.3 L463.0,186.7 L465.0,188.0 L467.0,189.4 L469.0,190.8 L471.0,192.2 L473.0,193.6 L475.0,195.0 L477.0,196.4 L479.0,197.8 L481.0,199.2 L483.0,200.6 L485.0,202.0 L487.0,203.4 L489.0,204.8 L491.0,206.2 L493.0,207.7 L495.0,209.1 L497.0,210.5 L499.0,212.0 L501.0,213.4 L503.0,214.9 L505.0,216.3 L507.0,217.7 L509.0,219.2 L511.1,220.6 L513.1,222.1 L515.1,223.5 L517.1,225.0 L519.1,226.4 L521.1,227.9 L523.1,229.3 L525.1,230.8 L527.1,232.2 L529.1,233.7 L531.1,235.2 L533.1,236.6 L535.1,238.1 L537.1,239.5 L539.1,241.0 L541.1,242.4 L543.1,243.9 L545.1,245.3" stroke="#1a4b8a" stroke-width="1" fill="none"/>
<path d="M249.0,98.8 L250.7,99.0 L252.7,99.3 L254.7,99.5 L256.7,99.8 L258.7,100.1 L260.7,100.3 L262.7,100.6 L264.7,100.9 L266.7,101.2 L268.7,101.5 L270.7,101.9 L272.7,102.2 L274.7,102.5 L276.7,102.9 L278.7,103.2 L280.7,103.6 L282.7,104.0 L284.7,104.4 L286.7,104.8 L288.7,105.2 L290.7,105.6 L292.7,106.0 L294.7,106.5 L296.7,106.9 L298.7,107.4 L300.8,107.9 L302.8,108.3 L304.8,108.8 L306.8,109.3 L308.8,109.9 L310.8,110.4 L312.8,110.9 L314.8,111.5 L316.8,112.1 L318.8,112.6 L320.8,113.2 L322.8,113.8 L324.8,114.4 L326.8,115.1 L328.8,115.7 L330.8,116.4 L332.8,117.0 L334.8,117.7 L336.8,118.4 L338.8,119.1 L340.8,119.8 L342.8,120.6 L344.8,121.3 L346.8,122.1 L348.8,122.9 L350.8,123.7 L352.8,124.5 L354.8,125.3 L356.8,126.1 L358.8,127.0 L360.8,127.8 L362.8,128.7 L364.8,129.6 L366.8,130.5 L368.8,131.4 L370.9,132.3 L372.9,133.3 L374.9,134.2 L376.9,135.2 L378.9,136.2 L380.9,137.2 L382.9,138.2 L384.9,139.2 L386.9,140.2 L388.9,141.3 L390.9,142.3 L392.9,143.4 L394.9,144.5 L396.9,145.6 L398.9,146.7 L400.9,147.8 L402.9,148.9 L404.9,150.0 L406.9,151.2 L408.9,152.3 L410.9,153.5 L412.9,154.7 L414.9,155.9 L416.9,157.0 L418.9,158.2 L420.9,159.5 L422.9,160.7 L424.9,161.9 L426.9,163.1 L428.9,164.4 L430.9,165.6 L432.9,166.9 L434.9,168.2 L436.9,169.4 L438.9,170.7 L441.0,172.0 L443.0,173.3 L445.0,174.6 L447.0,175.9 L449.0,177.3 L451.0,178.6 L453.0,179.9 L455.0,181.3 L457.0,182.6 L459.0,184.0 L461.0,185.3 L463.0,186.7 L465.0,188.0 L467.0,189.4 L469.0,190.8 L471.0,192.2 L473.0,193.6 L475.0,195.0 L477.0,196.4 L479.0,197.8 L481.0,199.2 L483.0,200.6 L485.0,202.0 L487.0,203.4 L489.0,204.8 L491.0,206.2 L493.0,207.7 L495.0,209.1 L497.0,210.5 L499.0,212.0 L501.0,213.4 L503.0,214.9 L505.0,216.3 L507.0,217.7 L509.0,219.2 L511.1,220.6 L513.1,222.1 L515.1,223.5 L517.1,225.0 L519.1,226.4 L521.1,227.9 L523.1,229.3 L525.1,230.8 L527.1,232.2 L529.1,233.7 L531.1,235.2 L533.1,236.6 L535.1,238.1 L537.1,239.5 L539.1,241.0 L541.1,242.4 L543.1,243.9 L545.1,245.3" stroke="#1a4b8a" stroke-width="1.55" fill="none"/>
<path d="M56.2,656.7 L58.2,656.0 L60.2,655.3 L62.3,654.6 L64.3,653.8 L66.3,653.1 L68.3,652.4 L70.3,651.6 L72.4,650.9 L74.4,650.1 L76.4,649.3 L78.4,648.6 L80.4,647.8 L82.5,647.0 L84.5,646.2 L86.5,645.4 L88.5,644.6 L90.5,643.8 L92.6,643.0 L94.6,642.1 L96.6,641.3 L98.6,640.5 L100.6,639.7 L102.7,638.9 L104.7,638.0 L106.7,637.2 L108.7,636.4 L110.7,635.6 L112.8,634.7 L114.8,633.9 L116.8,633.1 L118.8,632.3 L120.8,631.5 L122.9,630.7 L124.9,629.9 L126.9,629.1 L128.9,628.3 L130.9,627.5 L133.0,626.7 L135.0,625.9 L137.0,625.2 L139.0,624.4 L141.0,623.6 L143.1,622.9 L145.1,622.2 L147.1,621.4 L149.1,620.7 L151.2,620.0 L153.2,619.3 L155.2,618.6 L157.2,617.9 L159.2,617.3 L161.3,616.6 L163.3,616.0 L165.3,615.3 L167.3,614.7 L169.3,614.1 L171.4,613.5 L173.4,612.9 L175.4,612.4 L177.4,611.8 L179.4,611.2 L181.5,610.7 L183.5,610.2 L185.5,609.7 L187.5,609.2 L189.5,608.7 L191.6,608.2 L193.6,607.8 L195.6,607.4 L197.6,606.9 L199.6,606.5 L201.7,606.1 L203.7,605.7 L205.7,605.4 L207.7,605.0 L209.7,604.7 L211.8,604.4 L213.8,604.1 L215.8,603.8 L217.8,603.5 L219.8,603.3 L221.9,603.0 L223.9,602.8 L225.9,602.6 L227.9,602.4 L229.9,602.3 L232.0,602.1 L234.0,602.0 L236.0,601.9 L242.8,602.3 L270.0,602.2 L300.9,601.9" stroke="#ff00ff" stroke-width="1" fill="none"/>
<path d="M149.0,620.8 L149.1,620.7 L151.2,620.0 L153.2,619.3 L155.2,618.6 L157.2,617.9 L159.2,617.3 L161.3,616.6 L163.3,616.0 L165.3,615.3 L167.3,614.7 L169.3,614.1 L171.4,613.5 L173.4,612.9 L175.4,612.4 L177.4,611.8 L179.4,611.2 L181.5,610.7 L183.5,610.2 L185.5,609.7 L187.5,609.2 L189.5,608.7 L191.6,608.2 L193.6,607.8 L195.6,607.4 L197.6,606.9 L199.6,606.5 L201.7,606.1 L203.7,605.7 L205.7,605.4 L207.7,605.0 L209.7,604.7 L211.8,604.4 L213.8,604.1 L215.8,603.8 L217.8,603.5 L219.8,603.3 L221.9,603.0 L223.9,602.8 L225.9,602.6 L227.9,602.4 L229.9,602.3 L232.0,602.1 L234.0,602.0 L236.0,601.9 L242.8,602.3 L270.0,602.2 L300.9,601.9" stroke="#ff00ff" stroke-width="1.5" fill="none"/>
<path d="M56.2,664.5 L58.2,664.0 L60.2,663.5 L62.3,663.0 L64.3,662.4 L66.3,661.9 L68.3,661.3 L70.3,660.7 L72.4,660.1 L74.4,659.5 L76.4,658.8 L78.4,658.1 L80.4,657.5 L82.5,656.8 L84.5,656.0 L86.5,655.3 L88.5,654.5 L90.5,653.7 L92.6,652.9 L94.6,652.1 L96.6,651.3 L98.6,650.4 L100.6,649.5 L102.7,648.7 L104.7,647.8 L106.7,646.9 L108.7,646.0 L110.7,645.1 L112.8,644.2 L114.8,643.4 L116.8,642.5 L118.8,641.7 L120.8,640.9 L122.9,640.1 L124.9,639.3 L126.9,638.5 L128.9,637.7 L130.9,637.0 L133.0,636.2 L135.0,635.5 L137.0,634.8 L139.0,634.1 L141.0,633.4 L143.1,632.7 L145.1,632.0 L147.1,631.4 L149.1,630.7 L151.2,630.1 L153.2,629.4 L155.2,628.8 L157.2,628.2 L159.2,627.6 L161.3,627.1 L163.3,626.5 L165.3,625.9 L167.3,625.4 L169.3,624.9 L171.4,624.4 L173.4,623.8 L175.4,623.3 L177.4,622.9 L179.4,622.4 L181.5,621.9 L183.5,621.5 L185.5,621.0 L187.5,620.6 L189.5,620.2 L191.6,619.8 L193.6,619.4 L195.6,619.0 L197.6,618.6 L199.6,618.2 L201.7,617.9 L203.7,617.5 L205.7,617.2 L207.7,616.8 L209.7,616.5 L211.8,616.2 L213.8,615.9 L215.8,615.6 L217.8,615.4 L219.8,615.1 L221.9,614.8 L223.9,614.6 L225.9,614.3 L227.9,614.1 L229.9,613.9 L232.0,613.7 L234.0,613.5 L236.0,613.3 L242.8,613.7 L270.0,613.8 L300.9,613.7" stroke="#ff00ff" stroke-width="1" fill="none" opacity="0.8"/>
<path d="M194.6,572.5 L196.6,571.7 L198.6,570.8 L200.6,570.0 L202.6,569.2 L204.6,568.4 L206.6,567.6 L208.6,566.8 L210.6,566.0 L212.6,565.2 L214.6,564.4 L216.6,563.6 L218.6,562.8 L220.7,562.0 L222.7,561.2 L224.7,560.5 L226.7,559.7 L228.7,558.9 L230.7,558.2 L232.7,557.4 L234.7,556.6 L236.7,555.9 L238.7,555.2 L240.7,554.4 L242.7,553.7 L244.7,553.0 L246.7,552.2 L248.7,551.5 L250.7,550.8 L252.7,550.1 L254.7,549.4 L256.7,548.7 L258.7,548.0 L260.7,547.3 L262.7,546.6 L264.7,545.9 L266.7,545.3 L268.7,544.6 L270.8,544.0 L272.8,543.3 L274.8,542.6 L276.8,542.0 L278.8,541.4 L280.8,540.7 L282.8,540.1 L284.8,539.5 L286.8,538.9 L288.8,538.3 L290.8,537.7 L292.8,537.1 L294.8,536.5 L296.8,535.9 L298.8,535.3 L300.8,534.8 L302.8,534.2 L304.8,533.7 L306.8,533.1 L308.8,532.6 L310.8,532.0 L312.8,531.5 L314.8,531.0 L316.8,530.5 L318.8,530.0 L320.9,529.5 L322.9,529.0 L324.9,528.5 L326.9,528.0 L328.9,527.5 L330.9,527.1 L332.9,526.6 L334.9,526.2 L336.9,525.7 L338.9,525.3 L340.9,524.9 L342.9,524.5 L344.9,524.0 L346.9,523.6 L348.9,523.3 L350.9,522.9 L352.9,522.5 L354.9,522.1 L356.9,521.8 L358.9,521.4 L360.9,521.1 L362.9,520.7 L364.9,520.4 L366.9,520.1 L368.9,519.8 L371.0,519.5 L373.0,519.2 L375.0,518.9 L377.0,518.6 L379.0,518.3 L381.0,518.1 L383.0,517.8 L385.0,517.6 L387.0,517.3 L389.0,517.1 L391.0,516.8 L393.0,516.6 L395.0,516.4 L397.0,516.2 L399.0,516.0 L401.0,515.8 L403.0,515.6 L405.0,515.4 L407.0,515.2 L409.0,515.1 L411.0,514.9 L413.0,514.7 L415.0,514.6 L417.0,514.4 L419.0,514.3 L421.1,514.2 L423.1,514.0 L425.1,513.9 L427.1,513.8 L429.1,513.7 L431.1,513.6 L433.1,513.5 L435.1,513.4 L437.1,513.3 L439.1,513.2 L441.1,513.1 L443.1,513.0 L445.1,513.0 L447.1,512.9 L449.1,512.8 L451.1,512.8 L453.1,512.7 L455.1,512.7 L457.1,512.6 L459.1,512.6 L461.1,512.6 L463.1,512.5 L465.1,512.5 L467.1,512.5 L469.1,512.5 L471.2,512.5 L473.2,512.5 L475.2,512.5 L477.2,512.5 L479.2,512.5 L481.2,512.5 L483.2,512.5 L485.2,512.5 L487.2,512.5 L489.2,512.5 L491.2,512.5 L493.2,512.6 L495.2,512.6 L497.2,512.6 L499.2,512.7 L501.2,512.7 L503.2,512.7 L505.2,512.8 L507.2,512.8 L509.2,512.9 L511.2,512.9 L513.2,513.0 L515.2,513.0 L517.2,513.1 L519.2,513.2 L521.3,513.2 L523.3,513.3 L525.3,513.4 L527.3,513.4 L529.3,513.5 L531.3,513.6 L533.3,513.6 L535.3,513.7 L537.3,513.8 L539.3,513.9 L541.3,513.9 L543.3,514.0 L545.3,514.1" stroke="#1a4b8a" stroke-width="1" fill="none"/>
<path d="M255.2,549.2 L256.7,548.7 L258.7,548.0 L260.7,547.3 L262.7,546.6 L264.7,545.9 L266.7,545.3 L268.7,544.6 L270.8,544.0 L272.8,543.3 L274.8,542.6 L276.8,542.0 L278.8,541.4 L280.8,540.7 L282.8,540.1 L284.8,539.5 L286.8,538.9 L288.8,538.3 L290.8,537.7 L292.8,537.1 L294.8,536.5 L296.8,535.9 L298.8,535.3 L300.8,534.8 L302.8,534.2 L304.8,533.7 L306.8,533.1 L308.8,532.6 L310.8,532.0 L312.8,531.5 L314.8,531.0 L316.8,530.5 L318.8,530.0 L320.9,529.5 L322.9,529.0 L324.9,528.5 L326.9,528.0 L328.9,527.5 L330.9,527.1 L332.9,526.6 L334.9,526.2 L336.9,525.7 L338.9,525.3 L340.9,524.9 L342.9,524.5 L344.9,524.0 L346.9,523.6 L348.9,523.3 L350.9,522.9 L352.9,522.5 L354.9,522.1 L356.9,521.8 L358.9,521.4 L360.9,521.1 L362.9,520.7 L364.9,520.4 L366.9,520.1 L368.9,519.8 L371.0,519.5 L373.0,519.2 L375.0,518.9 L377.0,518.6 L379.0,518.3 L381.0,518.1 L383.0,517.8 L385.0,517.6 L387.0,517.3 L389.0,517.1 L391.0,516.8 L393.0,516.6 L395.0,516.4 L397.0,516.2 L399.0,516.0 L401.0,515.8 L403.0,515.6 L405.0,515.4 L407.0,515.2 L409.0,515.1 L411.0,514.9 L413.0,514.7 L415.0,514.6 L417.0,514.4 L419.0,514.3 L421.1,514.2 L423.1,514.0 L425.1,513.9 L427.1,513.8 L429.1,513.7 L431.1,513.6 L433.1,513.5 L435.1,513.4 L437.1,513.3 L439.1,513.2 L441.1,513.1 L443.1,513.0 L445.1,513.0 L447.1,512.9 L449.1,512.8 L451.1,512.8 L453.1,512.7 L455.1,512.7 L457.1,512.6 L459.1,512.6 L461.1,512.6 L463.1,512.5 L465.1,512.5 L467.1,512.5 L469.1,512.5 L471.2,512.5 L473.2,512.5 L475.2,512.5 L477.2,512.5 L479.2,512.5 L481.2,512.5 L483.2,512.5 L485.2,512.5 L487.2,512.5 L489.2,512.5 L491.2,512.5 L493.2,512.6 L495.2,512.6 L497.2,512.6 L499.2,512.7 L501.2,512.7 L503.2,512.7 L505.2,512.8 L507.2,512.8 L509.2,512.9 L511.2,512.9 L513.2,513.0 L515.2,513.0 L517.2,513.1 L519.2,513.2 L521.3,513.2 L523.3,513.3 L525.3,513.4 L527.3,513.4 L529.3,513.5 L531.3,513.6 L533.3,513.6 L535.3,513.7 L537.3,513.8 L539.3,513.9 L541.3,513.9 L543.3,514.0 L545.3,514.1" stroke="#1a4b8a" stroke-width="1.55" fill="none"/>
<path d="M194.6,588.8 L196.6,588.0 L198.6,587.3 L200.6,586.5 L202.6,585.8 L204.6,585.1 L206.6,584.3 L208.6,583.6 L210.6,582.9 L212.6,582.2 L214.6,581.5 L216.6,580.7 L218.6,580.0 L220.7,579.3 L222.7,578.6 L224.7,577.9 L226.7,577.3 L228.7,576.6 L230.7,575.9 L232.7,575.2 L234.7,574.5 L236.7,573.9 L238.7,573.2 L240.7,572.6 L242.7,571.9 L244.7,571.3 L246.7,570.6 L248.7,570.0 L250.7,569.3 L252.7,568.7 L254.7,568.1 L256.7,567.4 L258.7,566.8 L260.7,566.2 L262.7,565.6 L264.7,565.0 L266.7,564.4 L268.7,563.8 L270.8,563.2 L272.8,562.6 L274.8,562.0 L276.8,561.5 L278.8,560.9 L280.8,560.3 L282.8,559.7 L284.8,559.2 L286.8,558.6 L288.8,558.1 L290.8,557.5 L292.8,557.0 L294.8,556.4 L296.8,555.9 L298.8,555.4 L300.8,554.9 L302.8,554.3 L304.8,553.8 L306.8,553.3 L308.8,552.8 L310.8,552.3 L312.8,551.8 L314.8,551.4 L316.8,550.9 L318.8,550.4 L320.9,550.0 L322.9,549.5 L324.9,549.0 L326.9,548.6 L328.9,548.2 L330.9,547.7 L332.9,547.3 L334.9,546.9 L336.9,546.5 L338.9,546.1 L340.9,545.7 L342.9,545.3 L344.9,544.9 L346.9,544.6 L348.9,544.2 L350.9,543.9 L352.9,543.5 L354.9,543.2 L356.9,542.9 L358.9,542.5 L360.9,542.2 L362.9,541.9 L364.9,541.6 L366.9,541.3 L368.9,541.1 L371.0,540.8 L373.0,540.5 L375.0,540.3 L377.0,540.0 L379.0,539.8 L381.0,539.5 L383.0,539.3 L385.0,539.1 L387.0,538.9 L389.0,538.7 L391.0,538.5 L393.0,538.3 L395.0,538.1 L397.0,537.9 L399.0,537.7 L401.0,537.6 L403.0,537.4 L405.0,537.3 L407.0,537.1 L409.0,537.0 L411.0,536.8 L413.0,536.7 L415.0,536.6 L417.0,536.5 L419.0,536.3 L421.1,536.2 L423.1,536.1 L425.1,536.0 L427.1,535.9 L429.1,535.8 L431.1,535.8 L433.1,535.7 L435.1,535.6 L437.1,535.5 L439.1,535.5 L441.1,535.4 L443.1,535.3 L445.1,535.3 L447.1,535.2 L449.1,535.2 L451.1,535.1 L453.1,535.1 L455.1,535.1 L457.1,535.0 L459.1,535.0 L461.1,535.0 L463.1,535.0 L465.1,534.9 L467.1,534.9 L469.1,534.9 L471.2,534.9 L473.2,534.9 L475.2,534.9 L477.2,534.9 L479.2,534.9 L481.2,534.9 L483.2,534.9 L485.2,534.9 L487.2,534.9 L489.2,534.9 L491.2,534.9 L493.2,534.9 L495.2,535.0 L497.2,535.0 L499.2,535.0 L501.2,535.0 L503.2,535.0 L505.2,535.1 L507.2,535.1 L509.2,535.1 L511.2,535.1 L513.2,535.2 L515.2,535.2 L517.2,535.2 L519.2,535.2 L521.3,535.3 L523.3,535.3 L525.3,535.3 L527.3,535.3 L529.3,535.4 L531.3,535.4 L533.3,535.4 L535.3,535.4 L537.3,535.5 L539.3,535.5 L541.3,535.5 L543.3,535.5 L545.3,535.6" stroke="#1a4b8a" stroke-width="1" fill="none"/>
<path d="M56.2,653.7 L395.0,653.7 L397.0,653.7 L399.0,653.7 L401.0,653.6 L403.0,653.6 L405.0,653.5 L407.0,653.4 L409.0,653.3 L411.0,653.1 L413.0,653.0 L415.0,652.8 L417.0,652.6 L419.0,652.3 L421.0,652.1 L423.0,651.8 L425.0,651.5 L427.0,651.2 L429.0,650.9 L431.0,650.6 L433.0,650.2 L435.0,649.9 L437.0,649.6 L439.0,649.2 L441.0,648.9 L443.0,648.5 L445.0,648.2 L447.0,647.8 L449.0,647.4 L451.0,647.0 L453.0,646.6 L455.0,646.2 L457.0,645.8 L459.0,645.4 L461.0,645.0 L463.0,644.6 L465.0,644.2 L467.0,643.8 L469.0,643.4 L471.0,643.0 L473.0,642.6 L475.0,642.2 L477.0,641.8 L479.0,641.4 L481.0,640.9 L483.0,640.5 L485.0,640.1 L487.0,639.7 L489.0,639.3 L491.0,638.8 L493.0,638.4 L495.0,638.0 L497.0,637.6 L499.0,637.1 L501.0,636.7 L503.0,636.2 L505.0,635.8 L507.0,635.4 L509.0,634.9 L511.0,634.5 L513.0,634.0 L515.0,633.6 L517.0,633.1 L519.0,632.7 L521.0,632.2 L523.0,631.8 L525.0,631.4 L527.0,630.9 L529.0,630.5 L531.0,630.0 L533.0,629.6 L535.0,629.2 L537.0,628.7 L539.0,628.3 L541.0,627.9 L543.0,627.4 L545.0,627.0" stroke="#2c2c2c" stroke-width="0.85" fill="none"/>
<path d="M220.0,653.6 L226.0,653.6 L227.5,653.6 L229.1,653.6 L230.6,653.5 L232.1,653.4 L233.6,653.4 L235.2,653.2 L236.7,652.9 L238.2,652.7 L239.8,652.4 L241.3,652.0 L242.8,651.6 L244.3,651.2 L245.9,650.8 L247.4,650.2 L248.9,649.7 L250.5,649.2 L252.0,648.7 L253.5,648.2 L255.0,647.7 L256.6,647.2 L258.1,646.6 L259.6,646.1 L261.2,645.4 L262.7,644.8 L264.2,644.1 L265.7,643.4 L267.3,642.8 L268.8,642.1 L270.3,641.4 L271.9,640.7 L273.4,640.0 L274.9,639.3 L276.4,638.6 L278.0,637.9 L279.5,637.2 L281.0,636.5 L282.6,635.8 L284.1,635.1 L285.6,634.4 L287.1,633.7 L288.7,633.0 L290.2,632.4 L291.7,631.7 L293.3,631.1 L294.8,630.4 L296.3,629.7 L297.8,629.1 L299.4,628.4 L300.9,627.8" stroke="#111" stroke-width="1.35" fill="none"/>
<path d="M133.0,653.7 L395.0,653.7 L397.0,653.7 L399.0,653.7 L401.0,653.6 L403.0,653.6 L405.0,653.5 L407.0,653.4 L409.0,653.3 L411.0,653.1 L413.0,653.0 L415.0,652.8 L417.0,652.6 L419.0,652.3 L421.0,652.1 L423.0,651.8 L425.0,651.5 L427.0,651.2 L429.0,650.9 L431.0,650.6 L433.0,650.2 L435.0,649.9 L437.0,649.6 L439.0,649.2 L441.0,648.9 L443.0,648.5 L445.0,648.2 L447.0,647.8 L449.0,647.4 L451.0,647.0 L453.0,646.6 L455.0,646.2 L457.0,645.8 L459.0,645.4 L461.0,645.0 L463.0,644.6 L465.0,644.2 L467.0,643.8 L469.0,643.4 L471.0,643.0 L473.0,642.6 L475.0,642.2 L477.0,641.8 L479.0,641.4 L481.0,640.9 L483.0,640.5 L485.0,640.1 L487.0,639.7 L489.0,639.3 L491.0,638.8 L493.0,638.4 L495.0,638.0 L497.0,637.6 L499.0,637.1 L501.0,636.7 L503.0,636.2 L505.0,635.8 L507.0,635.4 L509.0,634.9 L511.0,634.5 L513.0,634.0 L515.0,633.6 L517.0,633.1 L519.0,632.7 L521.0,632.2 L523.0,631.8 L525.0,631.4 L527.0,630.9 L529.0,630.5 L531.0,630.0 L533.0,629.6 L535.0,629.2 L537.0,628.7 L539.0,628.3 L541.0,627.9 L543.0,627.4 L545.0,627.0" stroke="#111" stroke-width="1.35" fill="none"/>
<rect x="411.3" y="-2" width="182.3" height="20.1" fill="#fff" stroke="#707070" stroke-width="1"/>
</g>
<text x="415.6" y="13.2" font-size="11" fill="#0a0a0a" textLength="161.6" lengthAdjust="spacingAndGlyphs">HYDRO MPC-F 2CR10-12, 50Hz</text>
<g font-size="11.3" fill="#0a0a0a"><text x="46.4" y="441.7" text-anchor="end">0</text><text x="46.4" y="414.4" text-anchor="end">10</text><text x="46.4" y="387.1" text-anchor="end">20</text><text x="46.4" y="359.7" text-anchor="end">30</text><text x="46.4" y="332.4" text-anchor="end">40</text><text x="46.4" y="305.1" text-anchor="end">50</text><text x="46.4" y="277.8" text-anchor="end">60</text><text x="46.4" y="250.4" text-anchor="end">70</text><text x="46.4" y="223.1" text-anchor="end">80</text><text x="46.4" y="195.8" text-anchor="end">90</text><text x="46.4" y="168.4" text-anchor="end">100</text><text x="46.4" y="141.1" text-anchor="end">110</text><text x="46.4" y="113.8" text-anchor="end">120</text><text x="46.4" y="86.5" text-anchor="end">130</text><text x="601" y="441.7">0</text><text x="601" y="414.4">10</text><text x="601" y="387.1">20</text><text x="601" y="359.7">30</text><text x="601" y="332.4">40</text><text x="601" y="305.1">50</text><text x="601" y="277.8">60</text><text x="601" y="250.4">70</text><text x="601" y="223.1">80</text><text x="601" y="195.8">90</text><text x="601" y="168.4">100</text><text x="46.4" y="694.4" text-anchor="end">0</text><text x="601" y="694.4">0</text><text x="46.4" y="655.7" text-anchor="end">2</text><text x="601" y="655.7">2</text><text x="46.4" y="617.1" text-anchor="end">4</text><text x="601" y="617.1">4</text><text x="46.4" y="578.4" text-anchor="end">6</text><text x="601" y="578.4">6</text><text x="46.4" y="539.8" text-anchor="end">8</text><text x="601" y="539.8">8</text><text x="46.4" y="501.1" text-anchor="end">10</text><text x="601" y="501.1">10</text><text x="55.6" y="453.6" text-anchor="middle">0</text><text x="92.9" y="453.6" text-anchor="middle">2</text><text x="130.2" y="453.6" text-anchor="middle">4</text><text x="167.6" y="453.6" text-anchor="middle">6</text><text x="204.9" y="453.6" text-anchor="middle">8</text><text x="242.2" y="453.6" text-anchor="middle">10</text><text x="279.5" y="453.6" text-anchor="middle">12</text><text x="316.8" y="453.6" text-anchor="middle">14</text><text x="354.2" y="453.6" text-anchor="middle">16</text><text x="391.5" y="453.6" text-anchor="middle">18</text><text x="428.8" y="453.6" text-anchor="middle">20</text><text x="466.1" y="453.6" text-anchor="middle">22</text><text x="503.4" y="453.6" text-anchor="middle">24</text><text x="548.7" y="453.6" textLength="36" lengthAdjust="spacingAndGlyphs">Q [м³/ч]</text><text x="29.3" y="8.6" text-anchor="middle">H</text><text x="29.3" y="22.6" text-anchor="middle">[м]</text><text x="620.4" y="8.8" text-anchor="middle">eta</text><text x="620.4" y="22.6" text-anchor="middle">[%]</text><text x="26.8" y="467.3" text-anchor="middle">P</text><text x="26.8" y="481" text-anchor="middle">[кВт]</text><text x="625.3" y="467.3" text-anchor="middle">NPSH</text><text x="625.3" y="481" text-anchor="middle">[м]</text></g>
<g font-size="11" fill="#1a4b8a"><text x="379" y="510.6" textLength="154.5" lengthAdjust="spacingAndGlyphs">P1 (двиг.+преобр-ль частоты)</text><text x="528.3" y="547.4">P2</text></g>
</svg>
</body></html>
